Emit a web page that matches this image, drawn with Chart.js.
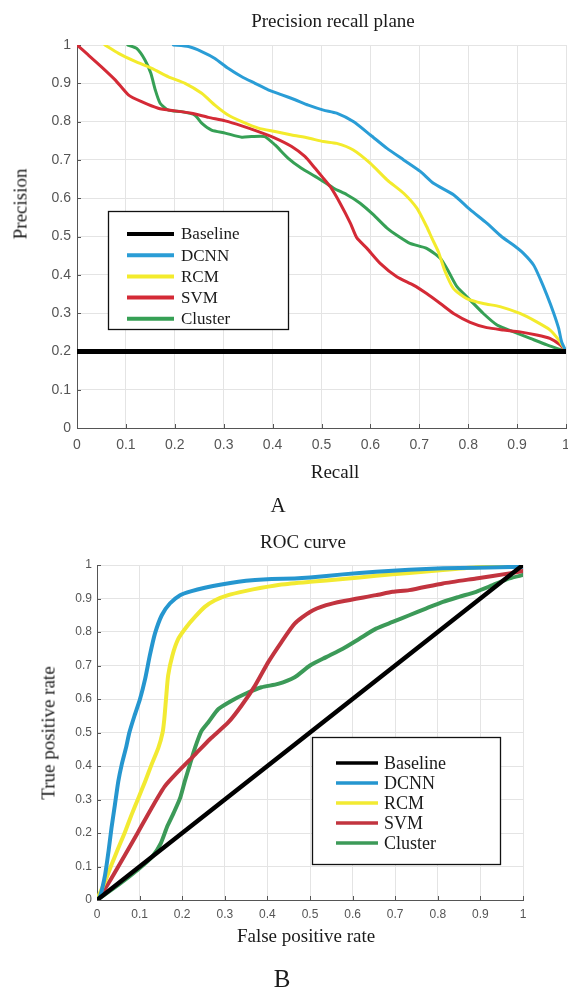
<!DOCTYPE html>
<html><head><meta charset="utf-8">
<script src="https://cdn.jsdelivr.net/npm/chart.js@4/dist/chart.umd.min.js"></script>
<style>
html,body{margin:0;padding:0;background:#fff;}
body{width:568px;height:990px;position:relative;overflow:hidden;font-family:"Liberation Serif","Times New Roman",serif;color:#1a1a1a;}
.c{position:absolute;left:0;}
.t{position:absolute;white-space:nowrap;transform:translate(-50%,-50%);line-height:1;}
.r{transform:translate(-50%,-50%) rotate(-90deg);}
</style></head><body>
<canvas id="pr" class="c" style="top:0" width="568" height="490"></canvas>
<canvas id="roc" class="c" style="top:520px" width="568" height="440"></canvas>
<div class="t" style="left:333px;top:20px;font-size:19px">Precision recall plane</div>
<div class="t r" style="left:20px;top:204px;font-size:19px">Precision</div>
<div class="t" style="left:335px;top:471px;font-size:19px">Recall</div>
<div class="t" style="left:278px;top:505px;font-size:21px">A</div>
<div class="t" style="left:303px;top:541px;font-size:19px">ROC curve</div>
<div class="t r" style="left:48px;top:733px;font-size:19px">True positive rate</div>
<div class="t" style="left:306px;top:935px;font-size:19px">False positive rate</div>
<div class="t" style="left:282px;top:978px;font-size:25px">B</div>
<script>
// ---------- data ----------
const seriesNames = ['Baseline','DCNN','RCM','SVM','Cluster'];
const tickValues = [0,0.1,0.2,0.3,0.4,0.5,0.6,0.7,0.8,0.9,1];
const tickLabels = ['0','0.1','0.2','0.3','0.4','0.5','0.6','0.7','0.8','0.9','1'];

// Precision-recall (A)
const prBaselineRecall = [0,1];
const prBaselinePrecision = [0.2,0.2];
const prDcnnRecall = [0.197,0.228,0.255,0.282,0.309,0.337,0.364,0.391,0.419,0.446,0.473,0.504,0.531,0.565,0.6,0.634,0.668,0.702,0.729,0.77,0.804,0.838,0.868,0.893,0.913,0.934,0.947,0.961,0.974,0.985,0.991,1.0];
const prDcnnPrecision = [1.0,0.996,0.983,0.965,0.939,0.917,0.9,0.883,0.87,0.857,0.843,0.83,0.822,0.8,0.765,0.73,0.7,0.67,0.639,0.609,0.57,0.535,0.5,0.477,0.456,0.425,0.39,0.347,0.303,0.26,0.225,0.2];
const prRcmRecall = [0.057,0.085,0.119,0.153,0.187,0.221,0.255,0.282,0.309,0.337,0.371,0.405,0.439,0.473,0.504,0.531,0.565,0.6,0.634,0.668,0.695,0.715,0.726,0.739,0.753,0.77,0.797,0.831,0.865,0.906,0.94,0.967,0.988,1.0];
const prRcmPrecision = [1.0,0.978,0.957,0.939,0.917,0.9,0.874,0.843,0.817,0.8,0.783,0.774,0.765,0.757,0.748,0.743,0.726,0.691,0.648,0.613,0.574,0.526,0.495,0.46,0.408,0.364,0.338,0.325,0.317,0.299,0.277,0.256,0.225,0.2];
const prSvmRecall = [0,0.023,0.05,0.078,0.105,0.132,0.166,0.2,0.234,0.269,0.303,0.337,0.371,0.405,0.439,0.466,0.487,0.502,0.518,0.538,0.559,0.572,0.593,0.62,0.654,0.688,0.715,0.743,0.77,0.804,0.838,0.872,0.906,0.94,0.967,0.988,1.0];
const prSvmPrecision = [1.0,0.974,0.943,0.909,0.87,0.852,0.835,0.828,0.822,0.811,0.802,0.789,0.774,0.757,0.735,0.709,0.678,0.655,0.63,0.587,0.535,0.497,0.469,0.43,0.395,0.373,0.351,0.325,0.299,0.276,0.262,0.256,0.251,0.243,0.234,0.217,0.2];
const prClusterRecall = [0.104,0.122,0.139,0.151,0.16,0.17,0.187,0.214,0.241,0.255,0.275,0.303,0.337,0.357,0.384,0.405,0.432,0.459,0.487,0.502,0.525,0.552,0.579,0.606,0.634,0.658,0.681,0.715,0.743,0.76,0.777,0.804,0.831,0.859,0.893,0.927,0.961,1.0];
const prClusterPrecision = [1.0,0.991,0.961,0.926,0.883,0.848,0.83,0.826,0.817,0.796,0.778,0.77,0.759,0.761,0.761,0.739,0.704,0.678,0.657,0.645,0.626,0.609,0.587,0.557,0.522,0.5,0.482,0.469,0.443,0.408,0.369,0.334,0.299,0.269,0.251,0.234,0.217,0.2];

// ROC (B)
const rocBaselineFpr = [0,1];
const rocBaselineTpr = [0,1];
const rocDcnnFpr = [0,0.007,0.019,0.027,0.034,0.042,0.05,0.058,0.068,0.076,0.088,0.101,0.113,0.124,0.136,0.152,0.171,0.195,0.222,0.253,0.292,0.332,0.371,0.41,0.464,0.5,0.577,0.655,0.733,0.812,0.89,1.0];
const rocDcnnTpr = [0,0.01,0.075,0.145,0.215,0.284,0.354,0.404,0.454,0.5,0.55,0.6,0.66,0.73,0.795,0.85,0.885,0.91,0.922,0.932,0.942,0.95,0.955,0.958,0.96,0.963,0.972,0.98,0.986,0.99,0.992,0.995];
const rocRcmFpr = [0,0.003,0.019,0.034,0.05,0.066,0.081,0.097,0.113,0.128,0.144,0.154,0.158,0.162,0.167,0.177,0.191,0.21,0.23,0.253,0.277,0.308,0.347,0.386,0.433,0.5,0.577,0.655,0.733,0.812,0.89,1.0];
const rocRcmTpr = [0,0.01,0.055,0.105,0.155,0.204,0.254,0.304,0.354,0.404,0.454,0.5,0.54,0.6,0.67,0.73,0.78,0.815,0.845,0.875,0.895,0.91,0.922,0.932,0.942,0.95,0.958,0.968,0.976,0.985,0.993,1.0];
const rocSvmFpr = [0,0.007,0.034,0.066,0.097,0.128,0.159,0.191,0.23,0.265,0.308,0.339,0.371,0.402,0.433,0.464,0.5,0.538,0.577,0.655,0.694,0.733,0.812,0.89,0.968,1.0];
const rocSvmTpr = [0,0.01,0.065,0.135,0.204,0.274,0.339,0.384,0.434,0.48,0.53,0.58,0.64,0.71,0.77,0.825,0.86,0.88,0.892,0.91,0.92,0.925,0.945,0.96,0.975,0.982];
const rocClusterFpr = [0,0.05,0.1,0.13,0.15,0.165,0.18,0.195,0.206,0.218,0.23,0.245,0.261,0.285,0.316,0.347,0.386,0.425,0.464,0.5,0.538,0.577,0.616,0.655,0.694,0.733,0.772,0.812,0.85,0.89,0.929,0.968,1.0];
const rocClusterTpr = [0,0.045,0.095,0.13,0.17,0.22,0.26,0.304,0.354,0.404,0.454,0.504,0.53,0.57,0.595,0.615,0.635,0.645,0.665,0.7,0.725,0.75,0.78,0.81,0.83,0.85,0.87,0.89,0.905,0.92,0.94,0.96,0.97];

// ---------- helpers ----------
const pts = (xs, ys) => xs.map((x, i) => ({x, y: ys[i]}));
const tickText = v => { const i = tickValues.findIndex(t => Math.abs(t - v) < 1e-6); return i < 0 ? '' : tickLabels[i]; };

const innerTicks = {
  id: 'innerTicks',
  beforeDatasetsDraw(chart, args, o) {
    const {ctx, chartArea: a, scales: {x, y}} = chart;
    ctx.save(); ctx.strokeStyle = o.color; ctx.lineWidth = 1; ctx.beginPath();
    x.ticks.forEach(t => { const p = Math.round(x.getPixelForValue(t.value)) + 0.5; ctx.moveTo(p, a.bottom); ctx.lineTo(p, a.bottom - o.len); });
    y.ticks.forEach(t => { const p = Math.round(y.getPixelForValue(t.value)) + 0.5; ctx.moveTo(a.left, p); ctx.lineTo(a.left + o.len, p); });
    ctx.stroke(); ctx.restore();
  }
};
const boxLegend = {
  id: 'boxLegend',
  afterDatasetsDraw(chart, args, o) {
    const ctx = chart.ctx; ctx.save();
    ctx.fillStyle = '#fff'; ctx.fillRect(o.left, o.top, o.width, o.height);
    ctx.strokeStyle = '#111'; ctx.lineWidth = 1.3; ctx.strokeRect(o.left + 0.5, o.top + 0.5, o.width, o.height);
    ctx.font = o.font; ctx.textBaseline = 'middle'; ctx.textAlign = 'left';
    chart.data.datasets.forEach((d, i) => {
      const yy = o.firstY + i * o.step;
      ctx.strokeStyle = d.borderColor; ctx.lineWidth = o.lineWidth; ctx.lineCap = 'butt';
      ctx.beginPath(); ctx.moveTo(o.lineX0, yy); ctx.lineTo(o.lineX1, yy); ctx.stroke();
      ctx.fillStyle = '#1a1a1a'; ctx.fillText(d.label, o.textX, yy + 1);
    });
    ctx.restore();
  }
};

function axis(o) {
  return {
    type: 'linear', min: 0, max: 1,
    grid: { color: '#e4e4e4', lineWidth: 1, drawTicks: false },
    border: { display: true, color: '#555', width: 1 },
    ticks: { stepSize: 0.1, autoSkip: false, maxRotation: 0, padding: o.pad, color: '#555',
             font: { family: 'Liberation Sans', size: o.size }, callback: v => tickText(v) },
    afterFit: s => { if (o.width) s.width = o.width; if (o.height) s.height = o.height; s.paddingLeft = 0; s.paddingRight = 0; s.paddingTop = 0; s.paddingBottom = 0; }
  };
}
function ds(label, xs, ys, color, w) {
  return { label, data: pts(xs, ys), borderColor: color, backgroundColor: color, borderWidth: w,
           pointRadius: 0, tension: 0.2, fill: false, showLine: true, borderCapStyle: 'round', borderJoinStyle: 'round' };
}

new Chart(document.getElementById('pr'), {
  type: 'scatter',
  data: { datasets: [
    ds(seriesNames[0], prBaselineRecall, prBaselinePrecision, '#000000', 5),
    ds(seriesNames[1], prDcnnRecall, prDcnnPrecision, '#2a9dd6', 3),
    ds(seriesNames[2], prRcmRecall, prRcmPrecision, '#f3eb2c', 3),
    ds(seriesNames[3], prSvmRecall, prSvmPrecision, '#d42a36', 3),
    ds(seriesNames[4], prClusterRecall, prClusterPrecision, '#36a055', 3)
  ]},
  options: {
    responsive: false, animation: false, events: [],
    layout: { padding: { left: 0, right: 2, top: 45, bottom: 0 } },
    scales: { x: axis({ pad: 9, size: 14, height: 62 }), y: axis({ pad: 6, size: 14, width: 77 }) },
    plugins: { legend: { display: false }, tooltip: { enabled: false },
      innerTicks: { color: '#555', len: 4 },
      boxLegend: { left: 108, top: 211, width: 180, height: 118, firstY: 234, step: 21.2, lineX0: 127, lineX1: 174, textX: 181, lineWidth: 4, font: '17px "Liberation Serif"' } }
  },
  plugins: [innerTicks, boxLegend]
});

new Chart(document.getElementById('roc'), {
  type: 'scatter',
  data: { datasets: [
    ds(seriesNames[0], rocBaselineFpr, rocBaselineTpr, '#000000', 4.5),
    ds(seriesNames[1], rocDcnnFpr, rocDcnnTpr, '#2596cf', 4),
    ds(seriesNames[2], rocRcmFpr, rocRcmTpr, '#f2ea32', 4),
    ds(seriesNames[3], rocSvmFpr, rocSvmTpr, '#c2343f', 4),
    ds(seriesNames[4], rocClusterFpr, rocClusterTpr, '#3c9a58', 4)
  ]},
  options: {
    responsive: false, animation: false, events: [],
    layout: { padding: { left: 0, right: 45, top: 45, bottom: 0 } },
    scales: { x: axis({ pad: 7, size: 12, height: 60 }), y: axis({ pad: 5, size: 12, width: 97 }) },
    plugins: { legend: { display: false }, tooltip: { enabled: false },
      innerTicks: { color: '#555', len: 4 },
      boxLegend: { left: 312, top: 217, width: 188, height: 127, firstY: 243, step: 20, lineX0: 336, lineX1: 378, textX: 384, lineWidth: 3.5, font: '18px "Liberation Serif"' } }
  },
  plugins: [innerTicks, boxLegend]
});
</script>
</body></html>
